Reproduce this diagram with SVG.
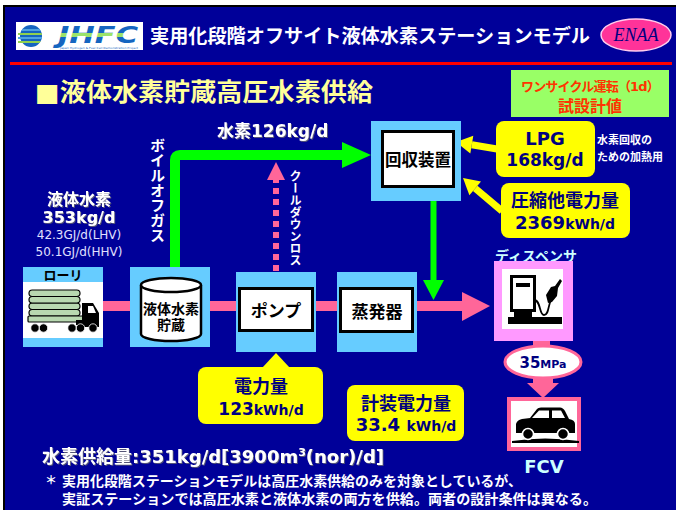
<svg xmlns="http://www.w3.org/2000/svg" width="676" height="510" viewBox="0 0 676 510">
  <style>
    .jp { font-family: "DejaVu Sans", "Noto Sans CJK JP", sans-serif; font-weight: bold; }
    .lt { font-family: "DejaVu Sans", "Noto Sans CJK JP", sans-serif; font-weight: normal; }
    .w { fill: #ffffff; }
    .k { fill: #000000; }
    .nv { fill: #000080; }
    .cy { fill: #ccffff; }
    .node { fill: #66ccff; }
    .box { fill: #ffffff; stroke: #000000; stroke-width: 3; }
    .call { fill: #ffff00; }
    .pipe { fill: #ff6699; }
    .vert { writing-mode: vertical-rl; }
    .c { text-anchor: middle; }
    .sh { filter: url(#textShadow); }
  </style>
  <defs>
    <linearGradient id="jhfcFill" x1="0" y1="0" x2="0" y2="1">
      <stop offset="0" stop-color="#1565c0"/>
      <stop offset="0.45" stop-color="#1565c0"/>
      <stop offset="0.45" stop-color="#9be36a"/>
      <stop offset="0.58" stop-color="#9be36a"/>
      <stop offset="0.58" stop-color="#1565c0"/>
      <stop offset="1" stop-color="#1565c0"/>
    </linearGradient>
    <clipPath id="globeClip">
      <circle cx="31" cy="36" r="11"/>
    </clipPath>
    <filter id="textShadow" x="-5%" y="-20%" width="110%" height="140%">
      <feDropShadow dx="1" dy="1" stdDeviation="0" flood-color="#555577"/>
    </filter>
  </defs>

  <!-- page and slide panel -->
  <rect x="0" y="0" width="676" height="510" fill="#ffffff"/>
  <rect x="4" y="6" width="680" height="510" fill="#000099" stroke="#000000" stroke-width="2"/>

  <!-- header -->
  <g id="header">
    <g id="logo">
      <rect x="16" y="22" width="127" height="28" fill="#ffffff"/>
      <g clip-path="url(#globeClip)">
        <rect x="18" y="24" width="26" height="24" fill="#1565c0"/>
        <rect x="18" y="29" width="26" height="2" fill="#4fa3e0"/>
        <rect x="18" y="33" width="26" height="2" fill="#8fd14f"/>
        <rect x="18" y="37" width="26" height="2" fill="#4fa3e0"/>
        <rect x="18" y="41" width="26" height="2" fill="#8fd14f"/>
      </g>
      <rect x="18" y="33" width="10" height="2" fill="#8fd14f"/>
      <rect x="18" y="37" width="10" height="2" fill="#4fa3e0"/>
      <rect x="18" y="41" width="10" height="2" fill="#8fd14f"/>
      <text x="58" y="42.5" font-family="DejaVu Sans, sans-serif" font-weight="bold" font-style="italic" font-size="23" textLength="80" lengthAdjust="spacingAndGlyphs" fill="url(#jhfcFill)">JHFC</text>
      <text x="60" y="49.3" font-family="DejaVu Sans, sans-serif" font-size="2.8" textLength="78" lengthAdjust="spacingAndGlyphs" fill="#1565c0">Japan Hydrogen &amp; Fuel Cell Demonstration Project</text>
    </g>
    <text x="150" y="43" class="jp w" font-size="19" textLength="440" lengthAdjust="spacingAndGlyphs">実用化段階オフサイト液体水素ステーションモデル</text>
    <g id="enaa">
      <ellipse cx="636" cy="35" rx="35" ry="16" fill="#ff3399" stroke="#ffccee" stroke-width="1.5"/>
      <text x="636" y="41" class="c" font-family="Liberation Serif, serif" font-style="italic" font-size="18" fill="#000080">ENAA</text>
    </g>
    <rect x="10" y="62" width="662" height="3" fill="#ff0000"/>
  </g>

  <!-- section title and design note -->
  <text x="35" y="101" class="jp" font-size="25" fill="#ffff99" textLength="338" lengthAdjust="spacingAndGlyphs">■液体水素貯蔵高圧水素供給</text>
  <g id="note-design">
    <rect x="511" y="70" width="158" height="47" fill="#99ff66"/>
    <text x="590" y="91" class="jp c" font-size="13" letter-spacing="-0.8" fill="#ff3300">ワンサイクル運転（1d）</text>
    <text x="590" y="112" class="jp c" font-size="16" fill="#ff3300">試設計値</text>
  </g>

  <!-- connectors -->
  <g id="connectors">
    <!-- main liquid hydrogen line -->
    <rect x="100" y="301" width="363" height="10" class="pipe"/>
    <polygon points="462,292 490,306 462,321" class="pipe"/>
    <!-- boil-off gas to recovery unit -->
    <path d="M175,268 L175,160 Q175,155 180,155 L345,155" fill="none" stroke="#00ff00" stroke-width="10"/>
    <polygon points="342,142 371,155 342,168" fill="#00ff00"/>
    <!-- recovered hydrogen back to line -->
    <line x1="433.5" y1="200" x2="433.5" y2="282" stroke="#00ff00" stroke-width="6"/>
    <polygon points="423,280 444,280 433.5,300" fill="#00ff00"/>
    <!-- cool-down loss -->
    <line x1="276" y1="271" x2="276" y2="178" stroke="#ff6699" stroke-width="6" stroke-dasharray="6 5"/>
    <polygon points="267,180 285,180 276,162" fill="#ff6699"/>
    <!-- dispenser to FCV -->
    <rect x="533" y="340" width="17" height="10" class="pipe"/>
    <polygon points="533,376 553,376 553,383 559,383 543,398 527,383 533,383" class="pipe"/>
    <!-- energy inputs to recovery unit -->
    <line x1="497" y1="149" x2="471.8" y2="144.7" stroke="#ffff00" stroke-width="7"/>
    <polygon points="456,142 473.3,135.8 470.3,153.6" fill="#ffff00"/>
    <line x1="502" y1="211" x2="475.2" y2="188.3" stroke="#ffff00" stroke-width="7"/>
    <polygon points="463,178 481,181.4 469.4,195.2" fill="#ffff00"/>
  </g>

  <!-- side labels -->
  <text x="156" y="138" class="jp w vert" font-size="15">ボイルオフガス</text>
  <text x="294" y="170" class="jp w vert" font-size="12">クールダウンロス</text>
  <text x="217" y="137" class="jp w sh" font-size="17">水素126kg/d</text>

  <g id="supply-label">
    <text x="79" y="205" class="jp w c sh" font-size="16">液体水素</text>
    <text x="79" y="223" class="jp w c sh" font-size="16">353kg/d</text>
    <text x="79" y="239" class="lt c" font-size="12" fill="#e0e0ff">42.3GJ/d(LHV)</text>
    <text x="79" y="256" class="lt c" font-size="12" fill="#e0e0ff">50.1GJ/d(HHV)</text>
  </g>

  <!-- lorry -->
  <g id="lorry">
    <rect x="23" y="267" width="80" height="80" class="node"/>
    <rect x="23" y="282" width="80" height="56" fill="#ffffff"/>
    <text x="63" y="280" class="jp k c" font-size="13">ローリ</text>
    <g fill="#b8d8b0" stroke="#000000" stroke-width="1.2">
      <rect x="29" y="309.5" width="51" height="6.5" rx="3.2"/>
      <rect x="29" y="303" width="51" height="6.5" rx="3.2"/>
      <rect x="29" y="296.5" width="51" height="6.5" rx="3.2"/>
      <rect x="29" y="290" width="51" height="6.5" rx="3.2"/>
      <rect x="28" y="316" width="56" height="6" rx="1"/>
    </g>
    <path d="M82,303 L93,303 L99,313 L99,327 L82,327 Z" fill="#000000"/>
    <path d="M88,306 L93,306 L96,313 L88,313 Z" fill="#ffffff"/>
    <rect x="76" y="320" width="8" height="5" fill="#000000"/>
    <g fill="#000000" stroke="#ffffff" stroke-width="0.8">
      <circle cx="35" cy="328" r="4.2"/>
      <circle cx="43.5" cy="328" r="4.2"/>
      <circle cx="72" cy="328" r="4.2"/>
      <circle cx="80.5" cy="328" r="4.2"/>
      <circle cx="93" cy="328" r="4.2"/>
    </g>
  </g>

  <!-- liquid hydrogen storage -->
  <g id="storage">
    <rect x="130" y="267" width="80" height="80" class="node"/>
    <path d="M141,285 L141,334 A30,7 0 0 0 201,334 L201,285" fill="#ffffff" stroke="#000000" stroke-width="2.5"/>
    <ellipse cx="171" cy="285" rx="30" ry="7" fill="#ffffff" stroke="#000000" stroke-width="2.5"/>
    <text x="171" y="314" class="jp k c" font-size="14">液体水素</text>
    <text x="171" y="330" class="jp k c" font-size="14">貯蔵</text>
  </g>

  <!-- pump -->
  <g id="pump">
    <rect x="236" y="272" width="80" height="80" class="node"/>
    <rect x="239.5" y="288.5" width="73" height="42" class="box"/>
    <text x="276" y="317" class="jp k c" font-size="17">ポンプ</text>
  </g>

  <!-- evaporator -->
  <g id="evaporator">
    <rect x="337" y="272" width="80" height="80" class="node"/>
    <rect x="340.5" y="288.5" width="72" height="43" class="box"/>
    <text x="377" y="318" class="jp k c" font-size="17">蒸発器</text>
  </g>

  <!-- recovery unit -->
  <g id="recovery">
    <rect x="371" y="121" width="90" height="80" class="node"/>
    <rect x="382.5" y="131.5" width="71" height="55" class="box"/>
    <text x="418" y="166" class="jp k c" font-size="16.5">回収装置</text>
  </g>

  <!-- LPG input -->
  <g id="lpg">
    <rect x="496" y="121" width="99" height="56" rx="8" class="call"/>
    <text x="545" y="145" class="jp nv c" font-size="18">LPG</text>
    <text x="545" y="166" class="jp nv c" font-size="17">168kg/d</text>
    <text x="597" y="144" class="jp w" font-size="11">水素回収の</text>
    <text x="597" y="161" class="jp w" font-size="11">ための加熱用</text>
  </g>

  <!-- compression power input -->
  <g id="compression-power">
    <rect x="501" y="183" width="129" height="55" rx="8" class="call"/>
    <text x="565" y="207" class="jp nv c" font-size="18">圧縮他電力量</text>
    <text x="565" y="229" class="jp nv c" font-size="18">2369<tspan font-size="14">kWh/d</tspan></text>
  </g>

  <!-- pump power -->
  <g id="pump-power">
    <polygon points="262,368 290,368 276,353" class="call"/>
    <rect x="198" y="367" width="125" height="57" rx="8" class="call"/>
    <text x="261" y="393" class="jp nv c" font-size="18">電力量</text>
    <text x="261" y="415" class="jp nv c" font-size="17">123<tspan font-size="14">kWh/d</tspan></text>
  </g>

  <!-- instrumentation power -->
  <g id="instrument-power">
    <rect x="347" y="385" width="117" height="56" rx="8" class="call"/>
    <text x="406" y="410" class="jp nv c" font-size="18">計装電力量</text>
    <text x="406" y="431" class="jp nv c" font-size="18">33.4 <tspan font-size="14">kWh/d</tspan></text>
  </g>

  <!-- dispenser -->
  <g id="dispenser">
    <text x="536" y="261" class="jp cy c" font-size="14">ディスペンサ</text>
    <rect x="494" y="261" width="79" height="80" fill="#ff99ff"/>
    <rect x="502" y="269" width="61" height="60" fill="#ffffff"/>
    <rect x="511.5" y="276.5" width="23" height="34" fill="#ffffff" stroke="#000000" stroke-width="3"/>
    <rect x="516" y="283" width="14" height="4" fill="#000000"/>
    <rect x="514" y="310" width="18" height="7" fill="#000000"/>
    <rect x="508" y="317" width="54" height="7" fill="#000000"/>
    <path d="M534,300 C541,300 539,315 544,315 C549,315 548,305 551,300" fill="none" stroke="#000000" stroke-width="1.8"/>
    <path d="M548,303 L546,295 L551,287 L555,286 L560,279 L562,281 L558,288 L557,296 L552,302 Z" fill="#000000"/>
  </g>

  <!-- nozzle pressure -->
  <g id="pressure">
    <ellipse cx="543" cy="362" rx="38" ry="16" fill="#ffffff" stroke="#ff6699" stroke-width="3"/>
    <text x="543" y="368" class="jp nv c" font-size="15">35<tspan font-size="11">MPa</tspan></text>
  </g>

  <!-- fuel cell vehicle -->
  <g id="fcv">
    <rect x="507" y="397" width="74" height="54" fill="#ff6699"/>
    <rect x="511" y="401" width="66" height="46" fill="#ffffff"/>
    <path d="M516,433 L516,424 Q517,420 522,419 L530,418 L537,409 Q538,407.5 541,407.5 L560,407.5 Q563,407.5 565,411 L569,419 Q575,420 575,424 L575,433 Z" fill="#000000"/>
    <path d="M532,418 L539,410.5 L549,410.5 L549,418 Z M552,410.5 L561,410.5 L565,418 L552,418 Z" fill="#ffffff"/>
    <path d="M512,441 Q545,436 579,441 L579,443 L512,443 Z" fill="#000000"/>
    <g fill="#000000" stroke="#ffffff" stroke-width="1.5">
      <circle cx="528" cy="434" r="5.5"/>
      <circle cx="563" cy="434" r="5.5"/>
    </g>
    <text x="544" y="473" class="jp cy c" font-size="18">FCV</text>
  </g>

  <!-- supply figure and footnote -->
  <text x="42" y="463" class="jp w sh" font-size="18">水素供給量:351kg/d[3900m<tspan font-size="11" dy="-7">3</tspan><tspan dy="7">(nor)/d]</tspan></text>
  <text x="45" y="485" class="jp w" font-size="12">＊</text>
  <text x="62" y="486" class="jp w" font-size="14" textLength="460" lengthAdjust="spacingAndGlyphs">実用化段階ステーションモデルは高圧水素供給のみを対象としているが、</text>
  <text x="62" y="504" class="jp w" font-size="14" textLength="535" lengthAdjust="spacingAndGlyphs">実証ステーションでは高圧水素と液体水素の両方を供給。両者の設計条件は異なる。</text>
</svg>
